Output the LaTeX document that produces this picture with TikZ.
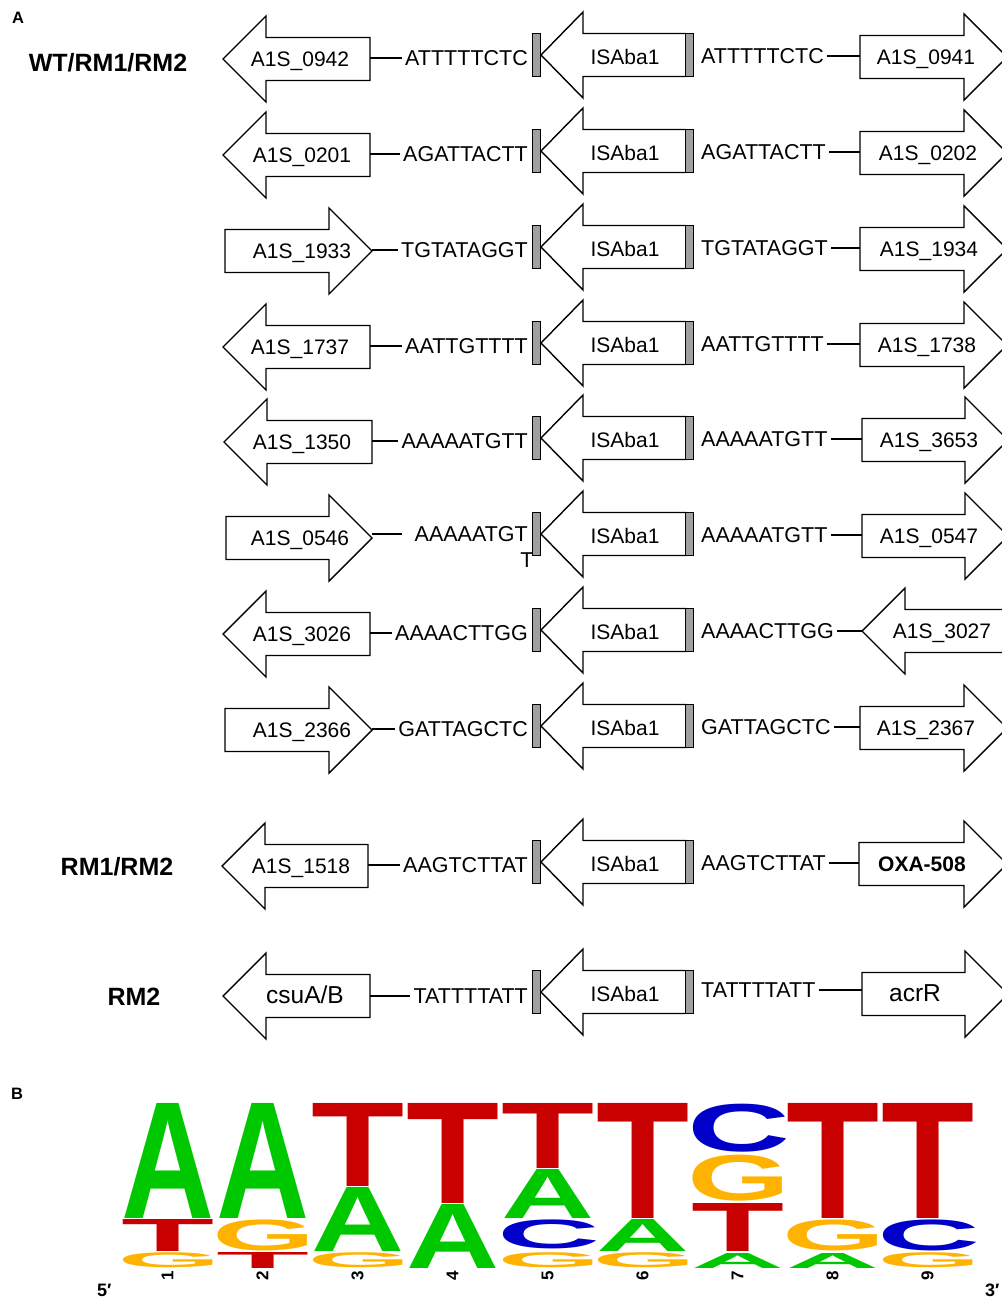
\documentclass[tikz,border=0pt]{standalone}
\usepackage{fontspec}
\setmainfont{Liberation Sans}
\usepackage{graphicx}
\definecolor{lgreen}{RGB}{0,200,0}
\definecolor{lred}{RGB}{200,0,0}
\definecolor{lorange}{RGB}{255,178,0}
\definecolor{lblue}{RGB}{0,0,200}
\definecolor{barg}{RGB}{160,160,160}
\tikzset{
 gene/.style={draw=black, line width=1.4pt, fill=white, line join=miter},
 glabel/.style={inner sep=0, text height=15pt, text depth=0pt, font=\fontsize{21}{21}\selectfont},
 seq/.style={inner sep=3pt, text height=15.4pt, text depth=0pt, font=\fontsize{21.5}{21.5}\selectfont},
 conn/.style={draw=black, line width=1.1pt},
 isbar/.style={draw=black, fill=barg, line width=1.2pt, minimum width=8pt, minimum height=43pt, inner sep=0},
 grp/.style={font=\bfseries\fontsize{25}{25}\selectfont, inner sep=0, text height=18pt, text depth=0pt},
 panel/.style={font=\bfseries\fontsize{16.5}{16.5}\selectfont, inner sep=0},
 numl/.style={font=\bfseries\fontsize{17}{17}\selectfont, inner sep=0, rotate=90},
 endl/.style={font=\bfseries\fontsize{18}{18}\selectfont, inner sep=0},
}
\newcommand{\GeneL}[6]{%
  \draw[gene] (#1,#3) -- ++(43,-43) -- ++(0,21.5) -- (#2,{#3-21.5}) -- (#2,{#3+21.5}) -- ({#1+43},{#3+21.5}) -- ++(0,21.5) -- cycle;
  \node[glabel] (#6) at (#4,#3) {#5};
}
\newcommand{\GeneR}[6]{%
  \draw[gene] (#2,#3) -- ++(-43,-43) -- ++(0,21.5) -- (#1,{#3-21.5}) -- (#1,{#3+21.5}) -- ({#2-43},{#3+21.5}) -- ++(0,21.5) -- cycle;
  \node[glabel] (#6) at (#4,#3) {#5};
}
\newcommand{\ISel}[2]{%
  \draw[gene] (541,#1) -- ++(42,-43) -- ++(0,21.5) -- (686,{#1-21.5}) -- (686,{#1+21.5}) -- (583,{#1+21.5}) -- ++(0,21.5) -- cycle;
  \node[isbar] (#2l) at (536.5,#1) {};
  \node[isbar] (#2r) at (689.5,#1) {};
  \node[glabel] (#2t) at (625,{#1+2}) {ISAba1};
}
% straight letters (A, T)
\newcommand{\LogoLet}[6]{%
  \pgfmathsetmacro{\lx}{121+95*(#2-1)}%
  \pgfmathsetmacro{\lh}{#4-#3}%
  \node[inner sep=0, outer sep=0, anchor=south west, text=#6] (#1) at (\lx,#4) {\resizebox*{93pt}{\lh pt}{\bfseries #5}};
}
% round letters (C, G): compensate side bearings
\newcommand{\LogoRnd}[6]{%
  \pgfmathsetmacro{\lx}{121+95*(#2-1)-3.5}%
  \pgfmathsetmacro{\lh}{#4-#3}%
  \node[inner sep=0, outer sep=0, anchor=south west, text=#6] (#1) at (\lx,#4) {\resizebox*{103pt}{\lh pt}{\bfseries #5}};
}
\begin{document}
\begin{tikzpicture}[x=1pt,y=-1pt]
\useasboundingbox (0,0) rectangle (1001,1298);
\fill[white] (0,0) rectangle (1001,1298);

% panel labels and group labels
\node[panel] (pA) at (18,18) {A};
\node[panel] (pB) at (17,1094) {B};
\node[grp] (lab1) at (108,62) {WT/RM1/RM2};
\node[grp] (lab9) at (117,866) {RM1/RM2};
\node[grp] (lab10) at (134,996) {RM2};

% Row 1
\GeneL{223}{370}{59}{300}{A1S\_0942}{g1a}
\coordinate (c1a) at (370,58);
\node[seq,anchor=east] (s1a) at (531,58) {ATTTTTCTC};
\draw[conn] (c1a) -- (s1a.west);
\ISel{55}{is1}
\node[seq,anchor=west] (s1b) at (698,56) {ATTTTTCTC};
\coordinate (c1b) at (860,56);
\draw[conn] (s1b.east) -- (c1b);
\GeneR{860}{1007}{57}{926}{A1S\_0941}{g1b}

% Row 2
\GeneL{223}{370}{155}{302}{A1S\_0201}{g2a}
\coordinate (c2a) at (370,154);
\node[seq,anchor=east] (s2a) at (531,154) {AGATTACTT};
\draw[conn] (c2a) -- (s2a.west);
\ISel{151}{is2}
\node[seq,anchor=west] (s2b) at (698,152) {AGATTACTT};
\coordinate (c2b) at (860,152);
\draw[conn] (s2b.east) -- (c2b);
\GeneR{860}{1007}{153}{928}{A1S\_0202}{g2b}

% Row 3
\GeneR{225}{372}{251}{302}{A1S\_1933}{g3a}
\coordinate (c3a) at (372,250);
\node[seq,anchor=east] (s3a) at (531,250) {TGTATAGGT};
\draw[conn] (c3a) -- (s3a.west);
\ISel{247}{is3}
\node[seq,anchor=west] (s3b) at (698,248) {TGTATAGGT};
\coordinate (c3b) at (860,248);
\draw[conn] (s3b.east) -- (c3b);
\GeneR{860}{1007}{249}{929}{A1S\_1934}{g3b}

% Row 4
\GeneL{223}{370}{347}{300}{A1S\_1737}{g4a}
\coordinate (c4a) at (370,346);
\node[seq,anchor=east] (s4a) at (531,346) {AATTGTTTT};
\draw[conn] (c4a) -- (s4a.west);
\ISel{343}{is4}
\node[seq,anchor=west] (s4b) at (698,344) {AATTGTTTT};
\coordinate (c4b) at (860,344);
\draw[conn] (s4b.east) -- (c4b);
\GeneR{860}{1007}{345}{927}{A1S\_1738}{g4b}

% Row 5
\GeneL{224}{372}{442}{302}{A1S\_1350}{g5a}
\coordinate (c5a) at (372,441);
\node[seq,anchor=east] (s5a) at (531,441) {AAAAATGTT};
\draw[conn] (c5a) -- (s5a.west);
\ISel{438}{is5}
\node[seq,anchor=west] (s5b) at (698,439) {AAAAATGTT};
\coordinate (c5b) at (862,439);
\draw[conn] (s5b.east) -- (c5b);
\GeneR{862}{1008}{440}{929}{A1S\_3653}{g5b}

% Row 6
\GeneR{226}{372}{538}{300}{A1S\_0546}{g6a}
\coordinate (c6a) at (372,534);
\coordinate (e6a) at (402,534);
\node[seq,anchor=east] (s6a) at (531,534) {AAAAATGT};
\node[seq] (s6t) at (527,560) {T};
\draw[conn] (c6a) -- (e6a);
\ISel{534}{is6}
\node[seq,anchor=west] (s6b) at (698,535) {AAAAATGTT};
\coordinate (c6b) at (862,535);
\draw[conn] (s6b.east) -- (c6b);
\GeneR{862}{1008}{536}{929}{A1S\_0547}{g6b}

% Row 7
\GeneL{223}{370}{634}{302}{A1S\_3026}{g7a}
\coordinate (c7a) at (370,633);
\node[seq,anchor=east] (s7a) at (531,633) {AAAACTTGG};
\draw[conn] (c7a) -- (s7a.west);
\ISel{630}{is7}
\node[seq,anchor=west] (s7b) at (698,631) {AAAACTTGG};
\coordinate (c7b) at (862,631);
\draw[conn] (s7b.east) -- (c7b);
\GeneL{862}{1015}{631}{942}{A1S\_3027}{g7b}

% Row 8
\GeneR{225}{372}{730}{302}{A1S\_2366}{g8a}
\coordinate (c8a) at (372,729);
\node[seq,anchor=east] (s8a) at (531,729) {GATTAGCTC};
\draw[conn] (c8a) -- (s8a.west);
\ISel{726}{is8}
\node[seq,anchor=west] (s8b) at (698,727) {GATTAGCTC};
\coordinate (c8b) at (860,727);
\draw[conn] (s8b.east) -- (c8b);
\GeneR{860}{1007}{728}{926}{A1S\_2367}{g8b}

% Row 9
\GeneL{222}{368}{866}{301}{A1S\_1518}{g9a}
\coordinate (c9a) at (368,865);
\node[seq,anchor=east] (s9a) at (531,865) {AAGTCTTAT};
\draw[conn] (c9a) -- (s9a.west);
\ISel{862}{is9}
\node[seq,anchor=west] (s9b) at (698,863) {AAGTCTTAT};
\coordinate (c9b) at (859,863);
\draw[conn] (s9b.east) -- (c9b);
\GeneR{859}{1007}{864}{922}{\bfseries OXA-508}{g9b}

% Row 10
\GeneL{223}{370}{996}{305}{\fontsize{24.5}{24.5}\selectfont csuA/B}{g10a}
\coordinate (c10a) at (370,996);
\node[seq,anchor=east] (s10a) at (531,996) {TATTTTATT};
\draw[conn] (c10a) -- (s10a.west);
\ISel{992}{is10}
\node[seq,anchor=west] (s10b) at (698,990) {TATTTTATT};
\coordinate (c10b) at (862,990);
\draw[conn] (s10b.east) -- (c10b);
\GeneR{862}{1008}{994}{915}{\fontsize{24.5}{24.5}\selectfont acrR}{g10b}

% Sequence logo
\LogoLet{l1a}{1}{1103}{1218}{A}{lgreen}
\LogoLet{l1b}{1}{1219}{1251}{T}{lred}
\LogoRnd{l1c}{1}{1253}{1268}{G}{lorange}
\LogoLet{l2a}{2}{1103}{1218}{A}{lgreen}
\LogoRnd{l2b}{2}{1220}{1251}{G}{lorange}
\LogoLet{l2c}{2}{1252}{1268}{T}{lred}
\LogoLet{l3a}{3}{1103}{1186}{T}{lred}
\LogoLet{l3b}{3}{1187}{1251}{A}{lgreen}
\LogoRnd{l3c}{3}{1253}{1268}{G}{lorange}
\LogoLet{l4a}{4}{1103}{1203}{T}{lred}
\LogoLet{l4b}{4}{1204}{1268}{A}{lgreen}
\LogoLet{l5a}{5}{1103}{1168}{T}{lred}
\LogoLet{l5b}{5}{1169}{1218}{A}{lgreen}
\LogoRnd{l5c}{5}{1220}{1249}{C}{lblue}
\LogoRnd{l5d}{5}{1253}{1268}{G}{lorange}
\LogoLet{l6a}{6}{1103}{1218}{T}{lred}
\LogoLet{l6b}{6}{1219}{1251}{A}{lgreen}
\LogoRnd{l6c}{6}{1253}{1268}{G}{lorange}
\LogoRnd{l7a}{7}{1104}{1152}{C}{lblue}
\LogoRnd{l7b}{7}{1155}{1201}{G}{lorange}
\LogoLet{l7c}{7}{1203}{1251}{T}{lred}
\LogoLet{l7d}{7}{1253}{1268}{A}{lgreen}
\LogoLet{l8a}{8}{1103}{1218}{T}{lred}
\LogoRnd{l8b}{8}{1220}{1251}{G}{lorange}
\LogoLet{l8c}{8}{1253}{1268}{A}{lgreen}
\LogoLet{l9a}{9}{1103}{1218}{T}{lred}
\LogoRnd{l9b}{9}{1220}{1251}{C}{lblue}
\LogoRnd{l9c}{9}{1253}{1268}{G}{lorange}

\foreach \i in {1,...,9} {
  \node[numl] (n\i) at ({121+95*(\i-1)+46.5},1276) {\i};
}
\node[endl,anchor=west] (p5) at (97,1290) {5′};
\node[endl,anchor=west] (p3) at (985,1290) {3′};
\end{tikzpicture}
\end{document}
